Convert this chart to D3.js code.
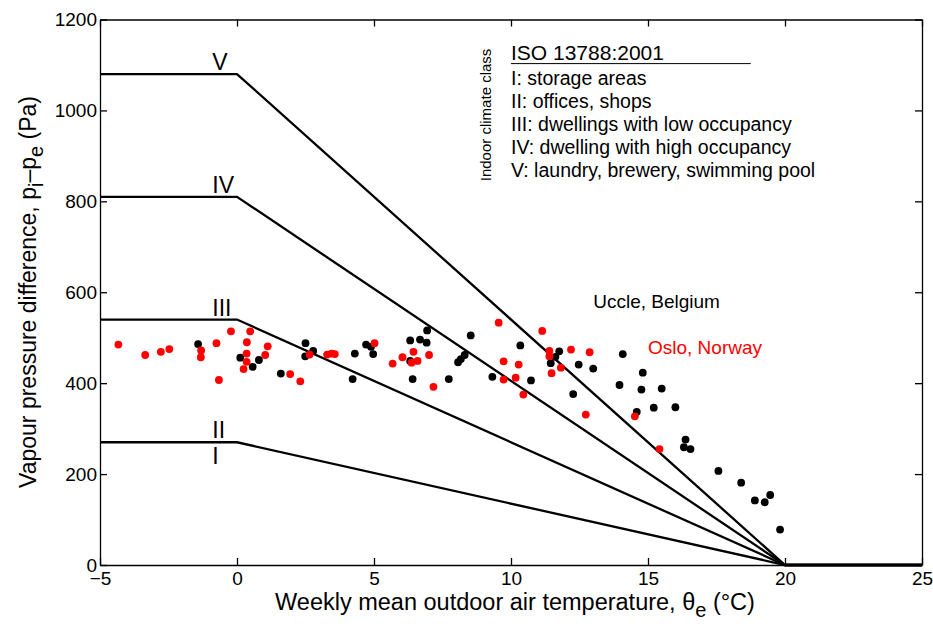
<!DOCTYPE html>
<html>
<head>
<meta charset="utf-8">
<script src="https://cdn.jsdelivr.net/npm/d3@7"></script>
<style>
body { margin: 0; background: #fff; }
svg { font-family: "Liberation Sans", Arial, sans-serif; }
.axis path, .axis line { stroke: #000; stroke-width: 1.3; }
.axis text { font-size: 19px; fill: #000; }
</style>
</head>
<body>
<svg width="933" height="624"></svg>
<script>
// ISO 13788 climate class limits (Pa at <=0 degC), falling to 0 at 20 degC
var classLevels = [270, 540, 810, 1080];
var classTemps = [-5, 0, 20, 25];
var classLabels = ["II", "III", "IV", "V"];

var legendLines = [
    "I: storage areas",
    "II: offices, shops",
    "III: dwellings with low occupancy",
    "IV: dwelling with high occupancy",
    "V: laundry, brewery, swimming pool"
];

var xTicks = [-5, 0, 5, 10, 15, 20, 25];
var yTicks = [0, 200, 400, 600, 800, 1000, 1200];

// Uccle, Belgium (black)
var uccleTemp = [-1.42, 0.12, 0.80, 0.57, 1.60, 2.50, 2.78, 2.49, 4.30, 4.22, 4.71, 4.89, 4.97,
    6.32, 6.68, 6.94, 6.92, 6.32, 6.41, 7.73, 8.07, 8.17, 8.31, 8.53, 9.32, 10.34, 10.73,
    11.76, 11.45, 11.62, 12.47, 13.0, 14.08, 13.96, 12.27, 14.81, 14.76, 15.50, 15.21, 16.0,
    14.59, 16.37, 16.31, 16.55, 17.57, 18.40, 18.90, 19.26, 19.46, 19.82];
var ucclePa = [486, 456, 451, 436, 421, 488, 471, 459, 465, 409, 485, 480, 464,
    494, 496, 516, 489, 449, 409, 409, 446, 453, 462, 505, 414, 483, 406,
    470, 444, 458, 441, 432, 464, 396, 376, 423, 386, 388, 346, 347,
    337, 276, 259, 255, 207, 181, 142, 138, 154, 78];

// Oslo, Norway (red)
var osloTemp = [-4.33, -3.35, -2.78, -2.47, -1.31, -1.32, -0.75, -0.66, -0.22, 0.48, 0.36, 1.12,
    0.35, 1.03, 0.35, 0.24, 1.94, 2.31, 2.65, 3.29, 3.45, 3.57, 5.02, 5.68, 6.04, 6.44, 6.37,
    6.59, 7.01, 7.17, 9.55, 9.73, 9.73, 10.28, 10.17, 10.45, 11.14, 11.40, 11.40, 11.82, 11.48,
    12.19, 12.87, 12.73, 14.52, 15.42];
var osloPa = [485, 462, 469, 475, 472, 457, 488, 407, 514, 514, 490, 481,
    465, 462, 447, 431, 420, 404, 463, 463, 465, 464, 488, 443, 457, 469, 445,
    449, 462, 392, 533, 448, 408, 441, 412, 375, 515, 471, 459, 434, 422,
    474, 468, 331, 327, 255];

var svg = d3.select("svg"),
    margin = {top: 19.5, right: 11, bottom: 59, left: 100},
    width = svg.attr("width") - margin.left - margin.right,
    height = svg.attr("height") - margin.top - margin.bottom,
    g = svg.append("g").attr("transform", "translate(" + margin.left + "," + margin.top + ")");

var x = d3.scaleLinear().domain([-5, 25]).range([0, width]),
    y = d3.scaleLinear().domain([0, 1200]).range([height, 0]);

var line = d3.line()
    .x(function(d) { return x(d.t); })
    .y(function(d) { return y(d.p); });

// box with inward ticks on every side
g.append("g")
    .attr("class", "axis")
    .attr("transform", "translate(0," + height + ")")
    .call(d3.axisBottom(x).tickValues(xTicks).tickSizeInner(-7).tickSizeOuter(0).tickPadding(6.5)
        .tickFormat(function(d) { return d < 0 ? "\u2212" + Math.abs(d) : d; }));

g.append("g")
    .attr("class", "axis")
    .call(d3.axisLeft(y).tickValues(yTicks).tickSizeInner(-7).tickSizeOuter(0).tickPadding(3)
        .tickFormat(d3.format("d")));

g.append("g")
    .attr("class", "axis")
    .call(d3.axisTop(x).tickValues(xTicks).tickSizeInner(-7).tickSizeOuter(0).tickFormat(""));

g.append("g")
    .attr("class", "axis")
    .attr("transform", "translate(" + width + ",0)")
    .call(d3.axisRight(y).tickValues(yTicks).tickSizeInner(-7).tickSizeOuter(0).tickFormat(""));

// class limit lines
var classes = classLevels.map(function(level, i) {
    return {
        label: classLabels[i],
        level: level,
        values: classTemps.map(function(t) {
            return {t: t, p: t <= 0 ? level : Math.max(0, level * (20 - t) / 20)};
        })
    };
});

g.selectAll(".limit")
    .data(classes)
    .enter().append("path")
    .attr("class", "limit")
    .attr("d", function(d) { return line(d.values); })
    .attr("fill", "none")
    .attr("stroke", "#000")
    .attr("stroke-width", 2.3)
    .attr("stroke-linejoin", "miter");

g.selectAll(".limit-label")
    .data(classes)
    .enter().append("text")
    .attr("class", "limit-label")
    .attr("x", x(-0.9))
    .attr("y", function(d) { return y(d.level) - 4; })
    .style("font-size", "23px")
    .text(function(d) { return d.label; });

// class I sits under the class II line
g.append("text")
    .attr("x", x(-0.9))
    .attr("y", y(270) + 22)
    .style("font-size", "23px")
    .text("I");

// measured points
g.selectAll(".uccle")
    .data(uccleTemp)
    .enter().append("circle")
    .attr("class", "uccle")
    .attr("cx", function(d) { return x(d); })
    .attr("cy", function(d, i) { return y(ucclePa[i]); })
    .attr("r", 3.9)
    .attr("fill", "#000");

g.selectAll(".oslo")
    .data(osloTemp)
    .enter().append("circle")
    .attr("class", "oslo")
    .attr("cx", function(d) { return x(d); })
    .attr("cy", function(d, i) { return y(osloPa[i]); })
    .attr("r", 3.9)
    .attr("fill", "#ff0000");

g.append("text")
    .attr("x", x(13.0))
    .attr("y", y(565))
    .style("font-size", "19px")
    .text("Uccle, Belgium");

g.append("text")
    .attr("x", x(15.0))
    .attr("y", y(464))
    .style("font-size", "19px")
    .attr("fill", "#ff0000")
    .text("Oslo, Norway");

// legend block
g.append("text")
    .attr("x", x(10.0))
    .attr("y", y(1110))
    .style("font-size", "21px")
    .text("ISO 13788:2001");

g.append("line")
    .attr("x1", x(10.0))
    .attr("x2", x(18.75))
    .attr("y1", y(1103))
    .attr("y2", y(1103))
    .attr("stroke", "#000")
    .attr("stroke-width", 1);

g.selectAll(".legend-line")
    .data(legendLines)
    .enter().append("text")
    .attr("class", "legend-line")
    .attr("x", x(10.0))
    .attr("y", function(d, i) { return y(1055) + i * 23; })
    .style("font-size", "19.5px")
    .text(function(d) { return d; });

g.append("text")
    .attr("transform", "translate(" + x(9.26) + "," + y(990) + ") rotate(-90)")
    .attr("text-anchor", "middle")
    .style("font-size", "15px")
    .text("Indoor climate class");

// axis titles
var xt = svg.append("text")
    .attr("x", 515)
    .attr("y", 610)
    .attr("text-anchor", "middle")
    .style("font-size", "23.5px");
xt.append("tspan").text("Weekly mean outdoor air temperature, \u03b8");
xt.append("tspan").attr("dy", 7).style("font-size", "20px").text("e");
xt.append("tspan").attr("dy", -7).text(" (\u00b0C)");

var yt = svg.append("text")
    .attr("transform", "translate(36,292) rotate(-90)")
    .attr("text-anchor", "middle")
    .style("font-size", "23px");
yt.append("tspan").text("Vapour pressure difference, p");
yt.append("tspan").attr("dy", 7).style("font-size", "20px").text("i");
yt.append("tspan").attr("dy", -7).text("\u2013p");
yt.append("tspan").attr("dy", 7).style("font-size", "20px").text("e");
yt.append("tspan").attr("dy", -7).text(" (Pa)");
</script>
</body>
</html>
